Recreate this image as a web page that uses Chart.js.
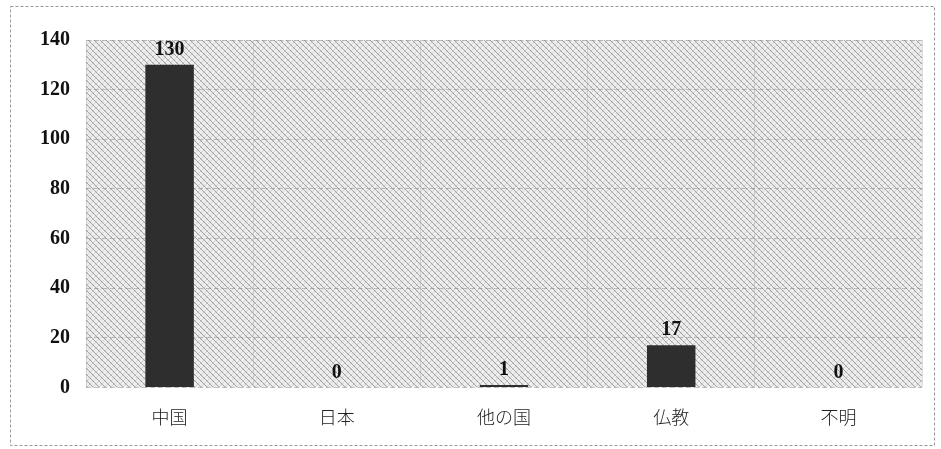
<!DOCTYPE html>
<html>
<head>
<meta charset="utf-8">
<script src="https://cdn.jsdelivr.net/npm/chart.js@4"></script>
<style>
  html, body { margin: 0; padding: 0; background: #fff; }
  #wrap { width: 941px; height: 449px; }
</style>
</head>
<body>
<div id="wrap"><canvas id="chart" width="941" height="449"></canvas></div>
<script>
// 件数（カテゴリ別）
const categories = ['中国', '日本', '他の国', '仏教', '不明'];
const counts = [130, 0, 1, 17, 0];
const yTicks = [0, 20, 40, 60, 80, 100, 120, 140];

// hatched background like the scanned original
function makeHatch() {
    const c = document.createElement('canvas');
    c.width = 6; c.height = 6;
    const g = c.getContext('2d');
    g.fillStyle = '#ededed';
    g.fillRect(0, 0, 6, 6);
    g.strokeStyle = '#d2d2d2';
    g.lineWidth = 1;
    g.beginPath(); g.moveTo(6, 0); g.lineTo(0, 6); g.stroke();
    g.strokeStyle = '#a2a2a2';
    g.beginPath(); g.moveTo(0, 0); g.lineTo(6, 6); g.stroke();
    return g.createPattern(c, 'repeat');
}

const frameAndHatch = {
    id: 'frameAndHatch',
    beforeDraw(chart) {
        const ctx = chart.ctx;
        const a = chart.chartArea;
        ctx.save();
        ctx.strokeStyle = '#9a9a9a';
        ctx.lineWidth = 1;
        ctx.setLineDash([3, 2]);
        ctx.strokeRect(10.5, 6.5, 924, 439);
        ctx.setLineDash([]);
        ctx.fillStyle = makeHatch();
        ctx.fillRect(a.left, a.top, a.right - a.left, a.bottom - a.top);
        ctx.restore();
    }
};

const valueLabels = {
    id: 'valueLabels',
    afterDatasetsDraw(chart) {
        const ctx = chart.ctx;
        const meta = chart.getDatasetMeta(0);
        ctx.save();
        ctx.font = 'bold 20px "Liberation Serif", "DejaVu Serif", serif';
        ctx.fillStyle = '#111';
        ctx.textAlign = 'center';
        ctx.textBaseline = 'bottom';
        meta.data.forEach((bar, i) => {
            ctx.fillText(String(counts[i]), bar.x, bar.y - 5);
        });
        ctx.restore();
    }
};

new Chart(document.getElementById('chart'), {
    type: 'bar',
    data: {
        labels: categories,
        datasets: [{
            data: counts,
            backgroundColor: '#2e2e2e',
            borderWidth: 0,
            barPercentage: 0.29,
            categoryPercentage: 1.0
        }]
    },
    options: {
        responsive: false,
        animation: false,
        layout: { padding: { left: 24, right: 19, top: 40, bottom: 2 } },
        plugins: {
            legend: { display: false },
            tooltip: { enabled: false }
        },
        scales: {
            x: {
                grid: { color: 'rgba(160,160,160,0.35)', drawTicks: false },
                border: { display: false },
                ticks: {
                    padding: 19,
                    color: '#222',
                    font: { family: '"Noto Sans CJK JP", sans-serif', size: 18, weight: 300 }
                }
            },
            y: {
                min: 0,
                max: 140,
                afterBuildTicks(axis) { axis.ticks = yTicks.map(v => ({ value: v })); },
                grid: { color: 'rgba(110,110,110,0.4)', drawTicks: false },
                border: { display: false, dash: [5, 3] },
                ticks: {
                    padding: 16,
                    color: '#111',
                    font: { family: '"Liberation Serif", "DejaVu Serif", serif', size: 20, weight: 'bold' }
                }
            }
        }
    },
    plugins: [frameAndHatch, valueLabels]
});
</script>
</body>
</html>
